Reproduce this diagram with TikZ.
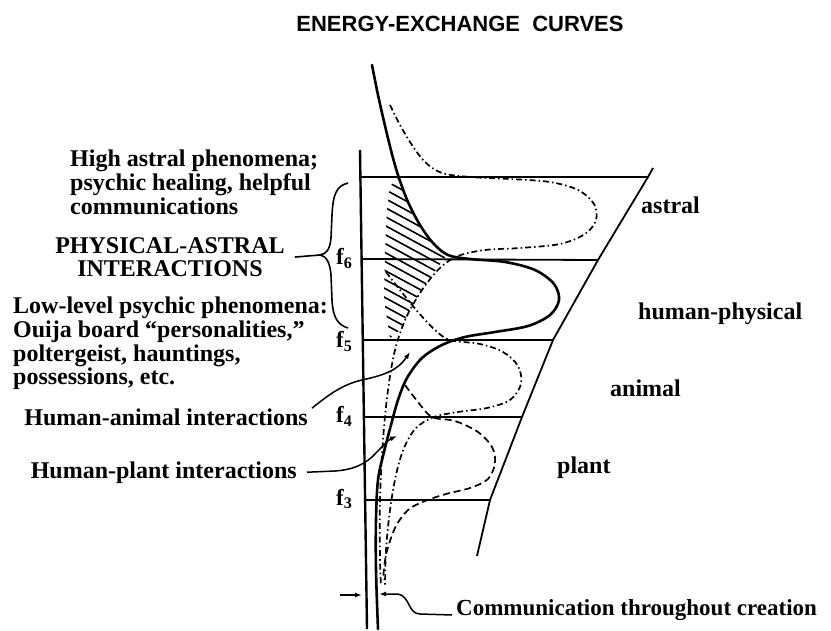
\documentclass[tikz,border=0pt]{standalone}
\usepackage{fontspec}
\setmainfont{Liberation Serif}
\newfontfamily\headfont{Liberation Sans}
\usetikzlibrary{arrows.meta}

\begin{document}
\begin{tikzpicture}[
    x=1pt, y=-1pt,
    lbl/.style={font=\bfseries\fontsize{24}{23.6}\selectfont, inner sep=0pt},
    flbl/.style={font=\bfseries\fontsize{23}{23}\selectfont, inner sep=0pt},
    frame/.style={line width=1.8pt, line join=round},
    spine/.style={line width=2.6pt, line cap=round, line join=round},
    dashdot/.style={line width=1.7pt, dash pattern=on 6pt off 3pt on 1.5pt off 3pt},
    dashline/.style={line width=1.7pt, dash pattern=on 7pt off 4pt},
    hatch/.style={line width=1.6pt},
    leader/.style={line width=1.5pt, -{Latex[length=7pt,width=5pt]}}
]
\useasboundingbox (0,0) rectangle (831,631);

% title
\node[font=\headfont\bfseries\fontsize{22}{22}\selectfont, anchor=base, inner sep=0pt]
    (title) at (460,32) {ENERGY-EXCHANGE\ \ CURVES};

% axis and levels
\coordinate (axtop) at (360,150);
\coordinate (axbot) at (367,629);
\draw[frame, line width=2.4pt] (axtop) -- (axbot);

\coordinate (l1) at (360,177);  \coordinate (r1) at (648,177);
\coordinate (l2) at (361,259);  \coordinate (r2) at (598,260);
\coordinate (l3) at (363,340);  \coordinate (r3) at (553,340);
\coordinate (l4) at (364,417);  \coordinate (r4) at (522,417);
\coordinate (l5) at (365,500);  \coordinate (r5) at (490,500);
\coordinate (r0) at (653,168);
\coordinate (r6) at (477,556);

\foreach \i in {1,...,5}
    \draw[frame] (l\i) -- (r\i);
\draw[frame] (r0) -- (r1) -- (r2) -- (r3) -- (r4) -- (r5) -- (r6);

\node[flbl, anchor=base west] (f6) at (336,265) {f\textsubscript{6}};
\node[flbl, anchor=base west] (f5) at (336,348) {f\textsubscript{5}};
\node[flbl, anchor=base west] (f4) at (336,423) {f\textsubscript{4}};
\node[flbl, anchor=base west] (f3) at (336,505) {f\textsubscript{3}};

% hatched wedge
\begin{scope}
    \clip (390,186) -- (398,178) -- (408,202) -- (420,225) -- (433,243) -- (446,256)
        -- (430,278) -- (412,305) -- (400,330) -- (390,338) -- (384,300)
        -- (385,250) -- (387,210) -- cycle;
    \foreach \k in {0,...,22}
        \draw[hatch] (360,140+\k*9) -- ++(120,65);
\end{scope}

% human-physical curve
\draw[spine] plot[smooth, tension=0.55] coordinates {
    (372,65) (378,95) (386,130) (393,158) (399,178) (408,202) (420,225)
    (433,243) (448,255) (470,259) (505,262) (535,270) (554,284) (559,300)
    (550,315) (528,326) (495,332) (465,337) (442,345) (422,358) (407,378)
    (398,400) (391,425) (384,452) (378,480) (376,520) (376,570) (378,629)};

% astral curve
\draw[dashdot] plot[smooth, tension=0.55] coordinates {
    (390,105) (400,125) (412,145) (425,162) (442,173) (470,177) (510,179)
    (550,182) (578,190) (594,204) (596,220) (585,234) (560,244) (520,248)
    (485,250) (458,256) (440,268) (422,290) (406,318) (395,350) (388,390)
    (383,440) (380,500) (380,560) (381,585)};

% animal curve
\draw[dashdot] plot[smooth, tension=0.55] coordinates {
    (386,272) (400,290) (418,312) (435,330) (450,340) (480,344) (503,352)
    (518,366) (521,384) (510,400) (487,408) (458,412) (434,417) (416,428)
    (404,448) (396,475) (390,510) (386,550) (385,585)};

% plant curve
\draw[dashline] plot[smooth, tension=0.55] coordinates {
    (405,385) (418,402) (432,417) (455,421) (478,432) (492,447) (495,463)
    (488,479) (470,488) (446,494) (425,501) (408,510) (395,528) (386,555)
    (383,580)};

% left labels
\node[lbl, anchor=north west, align=left] (highastral) at (70,150)
    {High astral phenomena;\\psychic healing, helpful\\communications};
\node[lbl, anchor=north, align=center] (physastral) at (170,237)
    {PHYSICAL-ASTRAL\\INTERACTIONS};
\node[lbl, anchor=north west, align=left] (lowlevel) at (13,297)
    {Low-level psychic phenomena:\\Ouija board ``personalities,''\\poltergeist, hauntings,\\possessions, etc.};
\node[lbl, anchor=base east] (hanimal) at (308,425) {Human-animal interactions};
\node[lbl, anchor=base east] (hplant) at (297,478) {Human-plant interactions};
\node[lbl, font=\bfseries\fontsize{23}{23}\selectfont, anchor=base west] (comm) at (456,615)
    {Communication throughout creation};

% right labels
\node[lbl, anchor=base west] (astral) at (641,214) {astral};
\node[lbl, anchor=base west] (humanphys) at (638,320) {human-physical};
\node[lbl, anchor=base west] (animal) at (610,397) {animal};
\node[lbl, anchor=base west] (plant) at (557,473) {plant};

% brace
\coordinate (bracetip) at (320,255);
\draw[line width=1.6pt] (348,183) .. controls (336,186) and (333,195) .. (332,215)
    -- (331,238) .. controls (330,250) and (326,254) .. (bracetip)
    .. controls (326,256) and (330,262) .. (331,275) -- (332,300)
    .. controls (333,318) and (338,325) .. (348,328);
\draw[line width=1.6pt] ([xshift=10pt]physastral.east) -- (bracetip);

% leaders
\coordinate (hatip) at (410,352);
\coordinate (hptip) at (397,436);
\coordinate (commtip) at (379,594);
\coordinate (commleft) at (340,595);
\coordinate (axismark) at (362,595);
\draw[leader] ([xshift=4pt]hanimal.north east) .. controls (325,398) and (340,385) .. (362,380)
    .. controls (385,375) and (398,370) .. (hatip);
\draw[leader] ([xshift=10pt]hplant.east) -- (335,471) .. controls (350,470) and (362,466) .. (372,457)
    .. controls (382,447) and (388,440) .. (hptip);
\draw[leader] ([xshift=-4pt]comm.base west) -- (420,614) .. controls (408,614) and (410,596) .. (398,594)
    -- (commtip);
\draw[leader] (commleft) -- (axismark);
\end{tikzpicture}
\end{document}
